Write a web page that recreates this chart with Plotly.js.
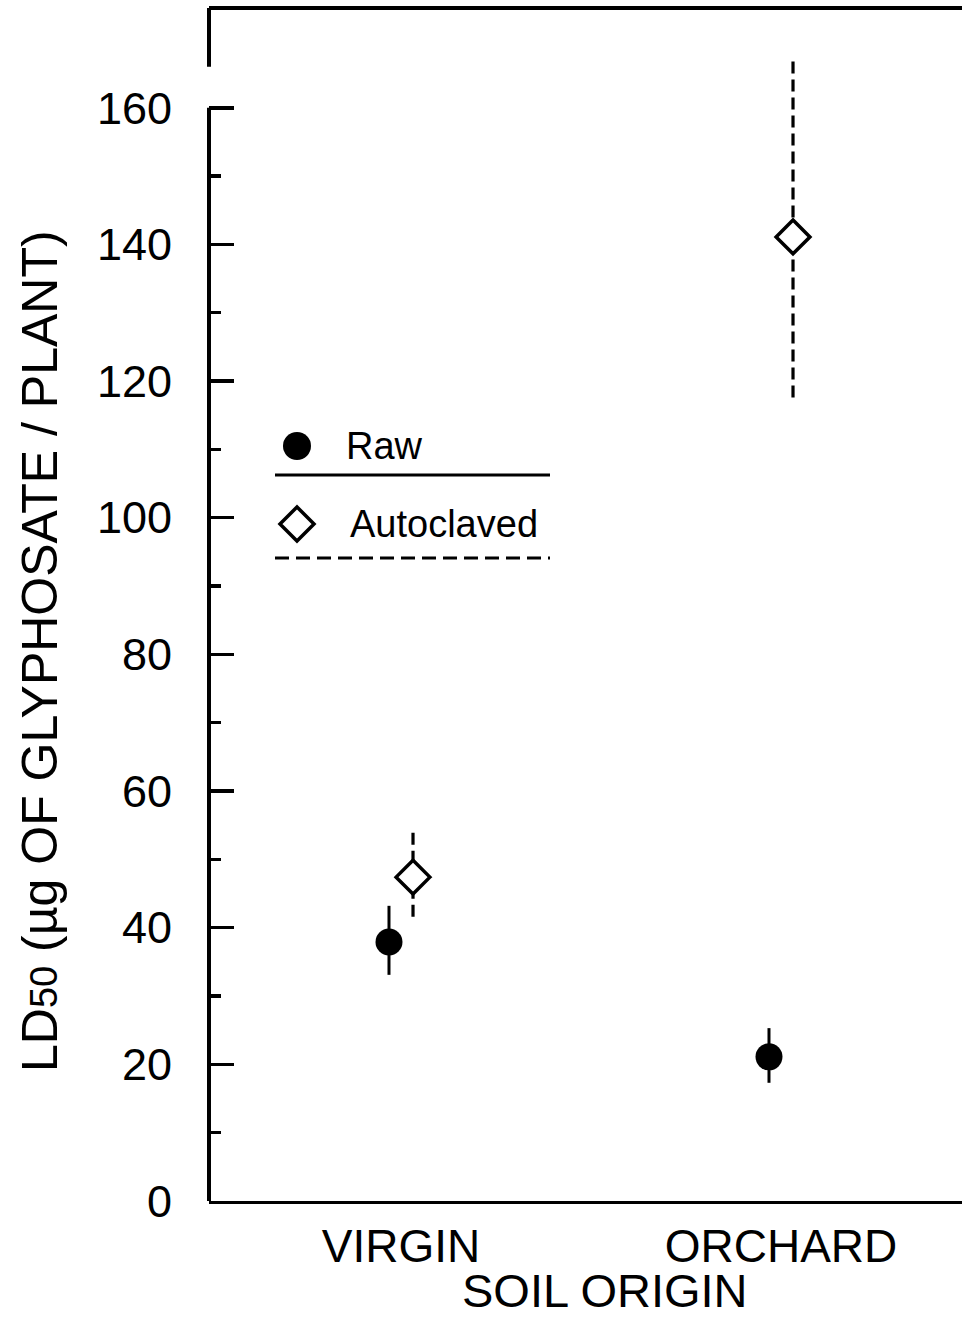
<!DOCTYPE html>
<html>
<head>
<meta charset="utf-8">
<script src="https://cdn.plot.ly/plotly-3.0.1.min.js"></script>
<style>html,body{margin:0;padding:0;background:#fff;}#chart{width:962px;height:1319px;}</style>
</head>
<body>
<div id="chart"></div>
<script>
// ---- data ----
const categories = ['VIRGIN', 'ORCHARD'];
const rawMean  = [37.9, 21.1];
const rawLow   = [33.1, 17.3];
const rawHigh  = [43.2, 25.3];
const autoMean = [47.4, 141.1];
const autoLow  = [41.6, 117.6];
const autoHigh = [53.9, 167.3];
const yTickVals = [0, 20, 40, 60, 80, 100, 120, 140, 160];
const yMinorVals = [10, 30, 50, 70, 90, 110, 130, 150];
const legendLabels = ['Raw', 'Autoclaved'];

// ---- layout geometry ----
const W = 962, H = 1319;
const L = 209, R = 0, T = 8, B = 118;
const plotW = W - L - R, plotH = H - T - B;
const FONT = '"Liberation Sans", Arial, Helvetica, sans-serif';
const catPos = categories.map((c, i) => i + 1);
const off = 0.0316;
const px = x => (x - L) / plotW;          // pixel -> paper x
const py = y => (H - B - y) / plotH;      // pixel -> paper y

const traces = [];
// error bars (vertical lines)
catPos.forEach((c, i) => {
  traces.push({x: [c - off, c - off], y: [rawLow[i], rawHigh[i]], mode: 'lines',
    line: {color: '#000', width: 3}, showlegend: false, hoverinfo: 'skip', cliponaxis: false});
  traces.push({x: [c + off, c + off], y: [autoLow[i], autoHigh[i]], mode: 'lines',
    line: {color: '#000', width: 3.2, dash: '12px,6px'}, showlegend: false, hoverinfo: 'skip', cliponaxis: false});
});
traces.push({name: legendLabels[0], x: catPos.map(c => c - off), y: rawMean, mode: 'markers',
  marker: {symbol: 'circle', size: 27, color: '#000', line: {width: 0}}, showlegend: false, cliponaxis: false});
traces.push({name: legendLabels[1], x: catPos.map(c => c + off), y: autoMean, mode: 'markers',
  marker: {symbol: 'diamond', size: 26, color: '#fff', line: {width: 3.5, color: '#000'}}, showlegend: false, cliponaxis: false});

// y value of top of plot
const yTop = 174.6;
const shapes = [
  // top border
  {type: 'line', xref: 'paper', yref: 'paper', x0: 0, x1: 1, y0: 1, y1: 1, line: {color: '#000', width: 4}},
  // left axis (broken)
  {type: 'line', xref: 'paper', yref: 'y', x0: 0, x1: 0, y0: 0, y1: 160, line: {color: '#000', width: 4}},
  {type: 'line', xref: 'paper', yref: 'y', x0: 0, x1: 0, y0: 166.0, y1: yTop, line: {color: '#000', width: 4}},
  // legend key
  {type: 'circle', xref: 'paper', yref: 'paper', x0: px(283), x1: px(311), y0: py(460), y1: py(432),
    fillcolor: '#000', line: {width: 0}},
  {type: 'line', xref: 'paper', yref: 'paper', x0: px(275), x1: px(550), y0: py(475), y1: py(475),
    line: {color: '#000', width: 3}},
  {type: 'path', xref: 'paper', yref: 'paper',
    path: `M ${px(297)} ${py(507)} L ${px(314)} ${py(524)} L ${px(297)} ${py(541)} L ${px(280)} ${py(524)} Z`,
    fillcolor: '#fff', line: {color: '#000', width: 3.5}},
  {type: 'line', xref: 'paper', yref: 'paper', x0: px(275), x1: px(550), y0: py(558), y1: py(558),
    line: {color: '#000', width: 3, dash: '14px,7px'}}
];

const annotations = [
  {text: legendLabels[0], xref: 'paper', yref: 'paper', x: px(344), y: py(446), xanchor: 'left', yanchor: 'middle',
    showarrow: false, font: {family: FONT, size: 38, color: '#000'}},
  {text: legendLabels[1], xref: 'paper', yref: 'paper', x: px(348), y: py(524), xanchor: 'left', yanchor: 'middle',
    showarrow: false, font: {family: FONT, size: 38, color: '#000'}},
  {text: 'LD<span style="font-size:38px">50</span> (µg OF GLYPHOSATE / PLANT)', xref: 'paper', yref: 'paper',
    x: px(40), y: py(651), xanchor: 'center', yanchor: 'middle', textangle: -90,
    showarrow: false, font: {family: FONT, size: 50, color: '#000'}},
  {text: 'SOIL ORIGIN', xref: 'paper', yref: 'paper', x: px(605), y: py(1318), xanchor: 'center', yanchor: 'bottom',
    borderpad: 0, showarrow: false, font: {family: FONT, size: 47, color: '#000'}}
];

const layout = {
  width: W, height: H,
  margin: {l: L, r: R, t: T, b: B, pad: 0},
  paper_bgcolor: '#fff', plot_bgcolor: '#fff',
  showlegend: false,
  xaxis: {
    type: 'linear', range: [1 - 192 / 380, 2 + 181 / 380],
    tickmode: 'array', tickvals: catPos, ticktext: categories,
    ticks: '', showgrid: false, zeroline: false,
    showline: true, linecolor: '#000', linewidth: 3,
    tickfont: {family: FONT, size: 46, color: '#000'},
    ticklabelstandoff: 3
  },
  yaxis: {
    range: [0, yTop],
    tickmode: 'array', tickvals: yTickVals, ticktext: yTickVals.map(String),
    ticks: 'inside', ticklen: 25, tickwidth: 3.5, tickcolor: '#000',
    minor: {tickmode: 'array', tickvals: yMinorVals, ticks: 'inside', ticklen: 12, tickwidth: 3.5, tickcolor: '#000', showgrid: false},
    showgrid: false, zeroline: false, showline: false,
    tickfont: {family: FONT, size: 45, color: '#000'},
    ticklabelstandoff: 36
  },
  shapes: shapes,
  annotations: annotations
};

Plotly.newPlot('chart', traces, layout, {staticPlot: true, displayModeBar: false});
</script>
</body>
</html>
